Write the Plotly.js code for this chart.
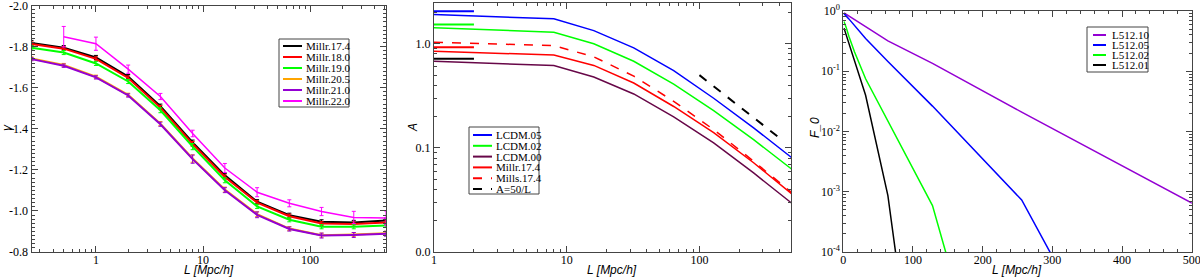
<!DOCTYPE html>
<html>
<head>
<meta charset="utf-8">
<script src="https://cdn.plot.ly/plotly-3.0.1.min.js"></script>
<style>html,body{margin:0;padding:0;background:#fff;}#chart{width:1200px;height:278px;}</style>
</head>
<body>
<div id="chart"></div>
<script>
// ---------- Panel 1 data: gamma vs L ----------
const L1 = [0.25, 0.5, 1, 2, 4, 8, 16, 32, 64, 128, 256, 512];
const L1m = [0.5, 1, 2, 4, 8, 16, 32, 64, 128, 256, 512];
const names1 = ["Millr.17.4", "Millr.18.0", "Millr.19.0", "Millr.20.5", "Millr.21.0", "Millr.22.0"];
const colors1 = ["#000000", "#ff0000", "#00ff00", "#ffa500", "#9400d3", "#ff00ff"];
const g174 = [-1.818, -1.795, -1.747, -1.654, -1.510, -1.333, -1.173, -1.045, -0.979, -0.947, -0.944, -0.953];
const g180 = [-1.813, -1.790, -1.740, -1.647, -1.503, -1.326, -1.165, -1.040, -0.974, -0.939, -0.936, -0.944];
const g190 = [-1.794, -1.771, -1.718, -1.630, -1.490, -1.313, -1.149, -1.022, -0.957, -0.923, -0.923, -0.929];
const g205 = [-1.742, -1.710, -1.653, -1.565, -1.425, -1.255, -1.104, -0.984, -0.914, -0.882, -0.885, -0.891];
const g210 = [-1.739, -1.707, -1.650, -1.562, -1.422, -1.252, -1.101, -0.981, -0.912, -0.880, -0.883, -0.889];
const g220 = [-1.848, -1.814, -1.690, -1.557, -1.377, -1.209, -1.091, -1.037, -0.997, -0.968, -0.965];
const e174 = [0.012, 0.010, 0.010, 0.010, 0.010, 0.012, 0.010, 0.010, 0.010, 0.010, 0.010, 0.012];
const e180 = [0.010, 0.010, 0.010, 0.010, 0.010, 0.012, 0.010, 0.010, 0.010, 0.010, 0.010, 0.012];
const e190 = [0.010, 0.010, 0.010, 0.010, 0.012, 0.015, 0.012, 0.010, 0.010, 0.010, 0.010, 0.010];
const e205 = [0.008, 0.008, 0.008, 0.008, 0.010, 0.018, 0.012, 0.012, 0.010, 0.010, 0.010, 0.010];
const e210 = [0.008, 0.008, 0.008, 0.008, 0.010, 0.020, 0.012, 0.014, 0.010, 0.012, 0.012, 0.012];
const e220 = [0.050, 0.032, 0.020, 0.015, 0.016, 0.022, 0.022, 0.017, 0.020, 0.030, 0.035];

// ---------- Panel 2 data: A vs L ----------
const L2 = [1, 8, 16, 32, 64, 128, 256, 512];
const names2 = ["LCDM.05", "LCDM.02", "LCDM.00", "Millr.17.4", "Mills.17.4", "A=50/L"];
const colors2 = ["#0000ff", "#00ff00", "#670748", "#ff0000", "#ff0000", "#000000"];
const dash2 = ["solid", "solid", "solid", "solid", "dash", "dash"];
const aL05 = [1.91, 1.74, 1.34, 0.915, 0.553, 0.300, 0.156, 0.078];
const aL02 = [1.43, 1.29, 1.00, 0.680, 0.410, 0.228, 0.120, 0.0605];
const aL00 = [0.68, 0.618, 0.48, 0.330, 0.199, 0.112, 0.0575, 0.0285];
const aMillr = [0.85, 0.78, 0.62, 0.420, 0.250, 0.140, 0.072, 0.035];
const aMills = [1.035, 0.96, 0.75, 0.490, 0.280, 0.150, 0.0745, 0.036];
const Lref = [100, 400];
const aRef = [0.5, 0.125];
const Lshort = [1, 2];
const shortColors = ["#0000ff", "#00ff00", "#ff0000", "#000000"];
const shortVals = [2.06, 1.53, 0.927, 0.72];

// ---------- Panel 3 data: F_0 vs L ----------
const L3 = [1, 2, 4, 8, 16, 32, 64, 128, 256, 512];
const names3 = ["L512.10", "L512.05", "L512.02", "L512.01"];
const colors3 = ["#9400d3", "#0000ff", "#00ff00", "#000000"];
const f10 = [0.93, 0.915, 0.88, 0.83, 0.72, 0.55, 0.32, 0.135, 0.021, 5.5e-4];
const f05 = [0.90, 0.88, 0.83, 0.74, 0.58, 0.35, 0.145, 0.0264, 7.3e-4, 2.6e-9];
const f02 = [0.67, 0.63, 0.54, 0.38, 0.21, 0.075, 0.0149, 5.9e-4, 3.6e-9, 1e-15];
const f01 = [0.52, 0.48, 0.41, 0.30, 0.16, 0.04, 8.6e-4, 3e-9, 1e-15, 1e-20];

const W = 1200, H = 278;
const px = x => x / W;
const py = y => 1 - y / H;

const traces = [];
const s1 = [g174, g180, g190, g205, g210];
const e1 = [e174, e180, e190, e205, e210];
s1.forEach((ys, i) => {
  traces.push({x: L1, y: ys, type: 'scatter', mode: 'lines', xaxis: 'x', yaxis: 'y',
    line: {color: colors1[i], width: 2}, showlegend: false,
    error_y: {type: 'data', array: e1[i], color: colors1[i], thickness: 1, width: 2}});
});
traces.push({x: L1m, y: g220, type: 'scatter', mode: 'lines', xaxis: 'x', yaxis: 'y',
  line: {color: colors1[5], width: 1.5}, showlegend: false,
  error_y: {type: 'data', array: e220, color: colors1[5], thickness: 1, width: 2}});

const s2 = [aL05, aL02, aL00, aMillr, aMills];
s2.forEach((ys, i) => {
  traces.push({x: L2, y: ys, type: 'scatter', mode: 'lines', xaxis: 'x2', yaxis: 'y2',
    line: {color: colors2[i], width: 1.5, dash: dash2[i]}, showlegend: false});
});
traces.push({x: Lref, y: aRef, type: 'scatter', mode: 'lines', xaxis: 'x2', yaxis: 'y2',
  line: {color: colors2[5], width: 2, dash: 'dash'}, showlegend: false});
shortVals.forEach((v, i) => {
  traces.push({x: Lshort, y: [v, v], type: 'scatter', mode: 'lines', xaxis: 'x2', yaxis: 'y2',
    line: {color: shortColors[i], width: 2}, showlegend: false});
});

[f10, f05, f02, f01].forEach((ys, i) => {
  traces.push({x: L3, y: ys, type: 'scatter', mode: 'lines', xaxis: 'x3', yaxis: 'y3',
    line: {color: colors3[i], width: 1.5}, showlegend: false});
});

function logMinor(lo, hi) {
  const v = [];
  for (let d = lo; d < hi; d++) for (let m = 2; m <= 9; m++) v.push(m * Math.pow(10, d));
  return v;
}

const tickFont = {family: 'Liberation Serif, Times New Roman, serif', size: 12, color: '#000'};
const axBase = {showline: true, linecolor: '#444', linewidth: 1, mirror: 'allticks', ticks: 'inside',
  ticklen: 6, tickcolor: '#444', showgrid: false, zeroline: false, tickfont: tickFont, ticklabeloverflow: 'allow'};
const xBase = Object.assign({}, axBase, {ticklabelstandoff: -3});

const layout = {
  width: W, height: H, margin: {l: 0, r: 0, t: 0, b: 0},
  paper_bgcolor: '#fff', plot_bgcolor: '#fff', showlegend: false,
  xaxis: Object.assign({}, xBase, {type: 'log', domain: [px(31.5), px(386)], range: [Math.log10(0.25), Math.log10(512)],
    anchor: 'y', tickvals: [1, 10, 100], ticktext: ['1', '10', '100'],
    minor: {tickvals: logMinor(-1, 3).filter(v => v >= 0.25 && v <= 512), ticklen: 3, ticks: 'inside', tickcolor: '#444'}}),
  yaxis: Object.assign({}, axBase, {domain: [1 - 252 / H, 1 - 5.5 / H], range: [-0.8, -2.0], anchor: 'x',
    tickvals: [-2.0, -1.8, -1.6, -1.4, -1.2, -1.0, -0.8], ticktext: ['-2.0', '-1.8', '-1.6', '-1.4', '-1.2', '-1.0', '-0.8'],
    minor: {dtick: 0.02, tick0: 0, ticklen: 3, ticks: 'inside', tickcolor: '#444'}}),
  xaxis2: Object.assign({}, xBase, {type: 'log', domain: [px(434), px(791)], range: [0, 2.69], anchor: 'y2',
    tickvals: [1, 10, 100], ticktext: ['1', '10', '100'],
    minor: {tickvals: logMinor(0, 3), ticklen: 3, ticks: 'inside', tickcolor: '#444'}}),
  yaxis2: Object.assign({}, axBase, {type: 'log', domain: [1 - 252 / H, 1 - 2.7 / H], range: [-2, 0.395], anchor: 'x2',
    tickvals: [0.01, 0.1, 1], ticktext: ['0.0', '0.1', '1.0'],
    minor: {tickvals: logMinor(-2, 1), ticklen: 3, ticks: 'inside', tickcolor: '#444'}}),
  xaxis3: Object.assign({}, xBase, {domain: [px(843.3), px(1191.7)], range: [0, 500], anchor: 'y3',
    tickvals: [0, 100, 200, 300, 400, 500],
    minor: {dtick: 20, tick0: 0, ticklen: 3, ticks: 'inside', tickcolor: '#444'}}),
  yaxis3: Object.assign({}, axBase, {type: 'log', domain: [1 - 252 / H, 1 - 11 / H], range: [-4, 0], anchor: 'x3',
    tickvals: [1e-4, 1e-3, 1e-2, 1e-1, 1], ticktext: ['10<sup>-4</sup>', '10<sup>-3</sup>', '10<sup>-2</sup>', '10<sup>-1</sup>', '10<sup>0</sup>'],
    minor: {tickvals: logMinor(-4, 0), ticklen: 3, ticks: 'inside', tickcolor: '#444'}}),
  shapes: [], annotations: []
};

const titleFont = {family: 'Liberation Sans, Arial, sans-serif', size: 12, color: '#000'};
[209, 612, 1017].forEach(cx => {
  layout.annotations.push({xref: 'paper', yref: 'paper', x: px(cx), y: py(278), xanchor: 'center', yanchor: 'bottom',
    text: '<i>L [Mpc/h]</i>', showarrow: false, font: titleFont, borderpad: 0});
});
[[7, 128, 'γ'], [413, 128, 'A'], [815, 128, 'F_0']].forEach(([cx, cy, t]) => {
  layout.annotations.push({xref: 'paper', yref: 'paper', x: px(cx), y: py(cy), xanchor: 'center', yanchor: 'middle',
    text: '<i>' + t + '</i>', textangle: -90, showarrow: false, font: titleFont});
});

const legFont = {family: 'Liberation Serif, Times New Roman, serif', size: 11, color: '#000'};
function addLegend(box, names, colors, dashes, row0, rowStep, sx0, sx1, tx) {
  layout.shapes.push({type: 'rect', xref: 'paper', yref: 'paper', x0: px(box[0]), x1: px(box[1]), y0: py(box[2]), y1: py(box[3]),
    line: {color: '#444', width: 1}, fillcolor: '#fff', layer: 'above'});
  names.forEach((n, i) => {
    const yy = row0 + i * rowStep;
    layout.shapes.push({type: 'line', xref: 'paper', yref: 'paper', x0: px(sx0), x1: px(sx1), y0: py(yy), y1: py(yy),
      line: {color: colors[i], width: 2, dash: dashes ? dashes[i] : 'solid'}, layer: 'above'});
    layout.annotations.push({xref: 'paper', yref: 'paper', x: px(tx), y: py(yy), xanchor: 'left', yanchor: 'middle',
      text: n, showarrow: false, font: legFont});
  });
}
addLegend([279, 349, 39, 107], names1, colors1, null, 46, 11, 283, 302, 304);
addLegend([469, 539, 127, 194], names2, colors2, dash2, 135, 10.8, 473, 492, 494);
addLegend([1087, 1148, 27, 72], names3, colors3, null, 35, 10, 1093, 1106, 1110);

Plotly.newPlot('chart', traces, layout, {staticPlot: true});
</script>
</body>
</html>
